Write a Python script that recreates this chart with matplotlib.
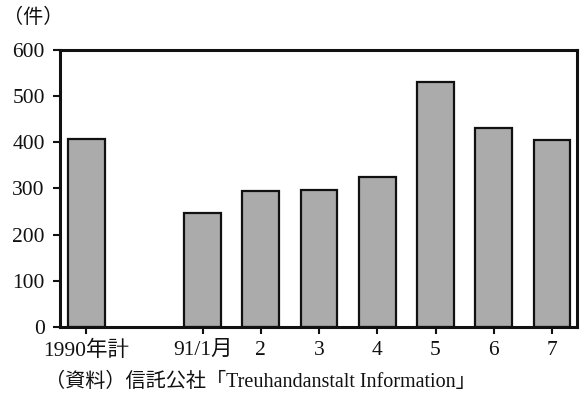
import matplotlib.pyplot as plt

plt.rcParams['font.family'] = ['Liberation Serif', 'Noto Sans CJK JP']

# Monthly counts (件), with the 1990 total on the left
labels = ["1990年計", "91/1月", "2", "3", "4", "5", "6", "7"]
positions = [0, 2, 3, 4, 5, 6, 7, 8]
counts = [407, 247, 295, 296, 325, 530, 431, 405]

fig = plt.figure(figsize=(5.8, 3.99), dpi=100)
ax = fig.add_axes([0.1034, 0.1805, 0.8914, 0.6942])

ax.bar(positions, counts, width=0.63, color="#ababab", edgecolor="#111111", linewidth=1.6)

ax.set_xlim(-0.45, 8.43)
ax.set_ylim(0, 600)
ax.set_yticks(range(0, 601, 100))
ax.set_xticks(positions)
ax.set_xticklabels(labels)
ax.tick_params(axis="both", labelsize=15.5, width=1.5, length=5, color="#111111", labelcolor="#111111")
ax.tick_params(axis="y", pad=6)
ax.tick_params(axis="x", pad=5)
for side in ax.spines.values():
    side.set_linewidth(2.2)
    side.set_color("#111111")

fig.text(0.005, 0.955, "（件）", fontsize=14.5, ha="left", va="center", color="#111111")
fig.text(0.078, 0.042, "（資料）信託公社「Treuhandanstalt Information」", fontsize=14.5,
         ha="left", va="center", color="#111111")

fig.savefig("out.png")
